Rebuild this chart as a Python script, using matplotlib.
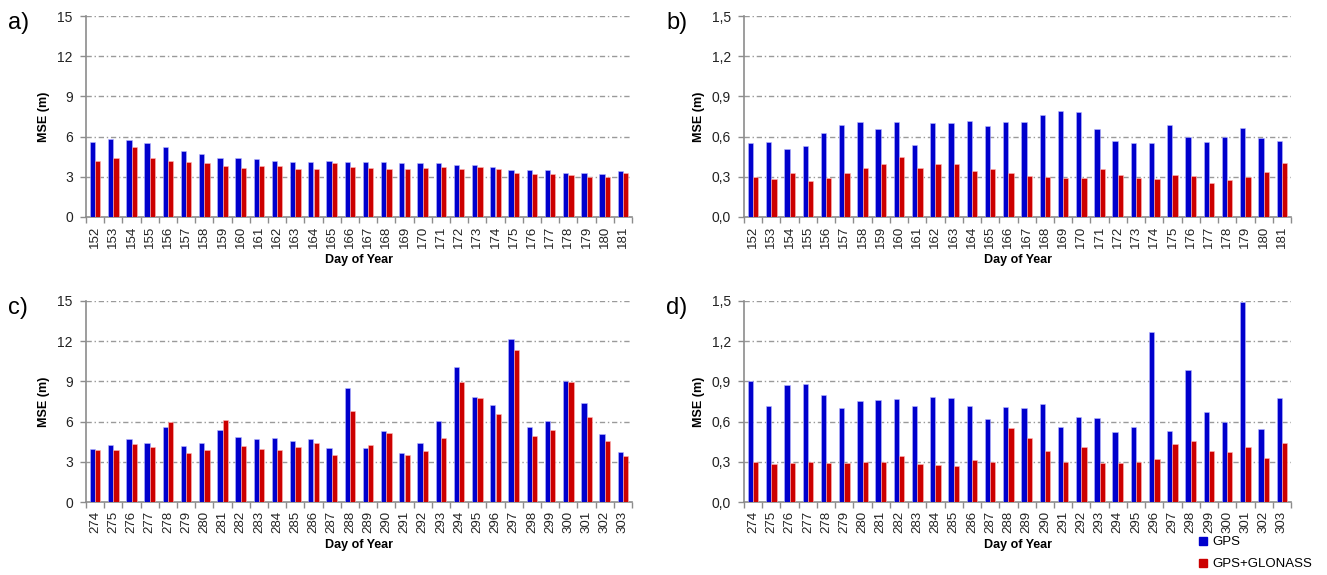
import matplotlib
matplotlib.use("Agg")
import matplotlib.pyplot as plt
from matplotlib.lines import Line2D
import numpy as np

plt.rcParams['font.family'] = ['Liberation Sans', 'DejaVu Sans']

days_ab = [str(d) for d in range(152, 182)]
days_cd = [str(d) for d in range(274, 304)]

gps_a = [5.6, 5.8, 5.75, 5.5, 5.2, 4.95, 4.7, 4.4, 4.4, 4.3, 4.2, 4.1, 4.1, 4.2, 4.1,
         4.1, 4.1, 4.0, 4.0, 4.0, 3.9, 3.9, 3.7, 3.5, 3.5, 3.5, 3.3, 3.3, 3.2, 3.4]
glo_a = [4.2, 4.4, 5.2, 4.4, 4.2, 4.1, 4.0, 3.8, 3.65, 3.8, 3.8, 3.6, 3.55, 4.0, 3.7,
         3.65, 3.6, 3.6, 3.65, 3.7, 3.6, 3.7, 3.55, 3.3, 3.2, 3.2, 3.1, 3.0, 3.0, 3.3]

gps_b = [0.55, 0.56, 0.51, 0.53, 0.63, 0.69, 0.71, 0.66, 0.71, 0.54, 0.70, 0.70, 0.72, 0.68, 0.71,
         0.71, 0.76, 0.79, 0.78, 0.655, 0.565, 0.55, 0.555, 0.69, 0.60, 0.56, 0.60, 0.665, 0.59, 0.565]
glo_b = [0.30, 0.28, 0.325, 0.27, 0.29, 0.325, 0.367, 0.394, 0.45, 0.367, 0.394, 0.394, 0.347, 0.357, 0.332,
         0.307, 0.30, 0.29, 0.293, 0.357, 0.312, 0.293, 0.28, 0.312, 0.307, 0.253, 0.273, 0.30, 0.335, 0.40]

gps_c = [3.95, 4.25, 4.7, 4.37, 5.6, 4.15, 4.37, 5.36, 4.84, 4.67, 4.77, 4.57, 4.67, 4.0, 8.5,
         4.0, 5.28, 3.68, 4.44, 6.07, 10.07, 7.85, 7.26, 12.13, 5.56, 6.02, 9.06, 7.4, 5.04, 3.73]
glo_c = [3.88, 3.88, 4.32, 4.1, 5.98, 3.68, 3.88, 6.12, 4.2, 3.93, 3.88, 4.1, 4.37, 3.53, 6.77,
         4.25, 5.14, 3.48, 3.83, 4.79, 8.99, 7.75, 6.57, 11.38, 4.94, 5.36, 8.94, 6.35, 4.52, 3.4]

gps_d = [0.905, 0.72, 0.873, 0.883, 0.80, 0.704, 0.754, 0.764, 0.769, 0.72, 0.784, 0.774, 0.72, 0.62, 0.707,
         0.704, 0.734, 0.558, 0.637, 0.63, 0.526, 0.563, 1.265, 0.533, 0.982, 0.675, 0.595, 1.495, 0.543, 0.774]
glo_d = [0.295, 0.28, 0.293, 0.30, 0.29, 0.29, 0.295, 0.30, 0.34, 0.283, 0.273, 0.268, 0.315, 0.30, 0.553,
         0.48, 0.382, 0.30, 0.407, 0.288, 0.288, 0.295, 0.32, 0.43, 0.456, 0.382, 0.372, 0.407, 0.325, 0.44]

yticks_big = [0, 3, 6, 9, 12, 15]
yticks_small = [0.0, 0.3, 0.6, 0.9, 1.2, 1.5]

BLUE = '#0000CC'
RED = '#CC0000'
GRID = '#9a9a9a'
SPINE = '#8c8c8c'

W, H = 1327, 575
fig = plt.figure(figsize=(W / 100, H / 100), dpi=100)

def px_axes(left, top, right, bottom):
    return fig.add_axes([left / W, 1 - bottom / H, (right - left) / W, (bottom - top) / H])

panels = [
    ('a)', (86, 16, 632, 217), days_ab, gps_a, glo_a, yticks_big, False),
    ('b)', (744, 16, 1291, 217), days_ab, gps_b, glo_b, yticks_small, True),
    ('c)', (86, 301, 632, 502), days_cd, gps_c, glo_c, yticks_big, False),
    ('d)', (744, 301, 1291, 502), days_cd, gps_d, glo_d, yticks_small, True),
]

for label, box, cats, g, r, yt, comma in panels:
    ax = px_axes(*box)
    x = np.arange(len(cats))
    bw = 0.29
    ax.bar(x - bw / 2, g, width=bw, color=BLUE, edgecolor='#b8b8ff', linewidth=0.4, zorder=3)
    ax.bar(x + bw / 2, r, width=bw, color=RED, edgecolor='#ffb8b8', linewidth=0.4, zorder=3)
    ax.set_xlim(-0.5, len(cats) - 0.5)
    ax.set_ylim(yt[0], yt[-1])
    ax.set_yticks(yt)
    if comma:
        ax.set_yticklabels([f"{v:.1f}".replace('.', ',') for v in yt])
    else:
        ax.set_yticklabels([str(v) for v in yt])
    for v in yt[1:]:
        ax.axhline(v, color=GRID, linewidth=1.0, linestyle=(0, (3.8, 2.0, 1.0, 2.0)), zorder=1)
    ax.set_xticks(x)
    ax.set_xticklabels(cats, rotation=90, fontsize=9.5)
    ax.set_xticks(np.arange(len(cats) + 1) - 0.5, minor=True)
    ax.tick_params(axis='x', which='major', length=0, pad=6.5, colors='#222222')
    ax.tick_params(axis='x', which='minor', length=4, color=SPINE, width=1)
    ax.tick_params(axis='y', length=4, color=SPINE, width=1, labelsize=10, pad=5.5, labelcolor='#222222')
    for s in ['top', 'right']:
        ax.spines[s].set_visible(False)
    for s in ['left', 'bottom']:
        ax.spines[s].set_color(SPINE)
        ax.spines[s].set_linewidth(1.2)
    ax.set_xlabel('Day of Year', fontsize=9, fontweight='bold', labelpad=4)
    ax.set_ylabel('MSE (m)', fontsize=9, fontweight='bold', labelpad=5)
    fig.text((box[0] - 78) / W, 1 - 23 / H - (box[1] - 16) / H, label, fontsize=17,
             ha='left', va='center')

handles = [Line2D([], [], marker='s', linestyle='none', markersize=6, color=BLUE, label='GPS'),
           Line2D([], [], marker='s', linestyle='none', markersize=6, color=RED, label='GPS+GLONASS')]
fig.legend(handles=handles, loc='upper left', bbox_to_anchor=(1198 / W, 1 - 536 / H),
           frameon=False, fontsize=9.5, handlelength=0.8, handletextpad=0.3,
           labelspacing=0.75, borderaxespad=0, borderpad=0)

fig.savefig('out.png', dpi=100)
